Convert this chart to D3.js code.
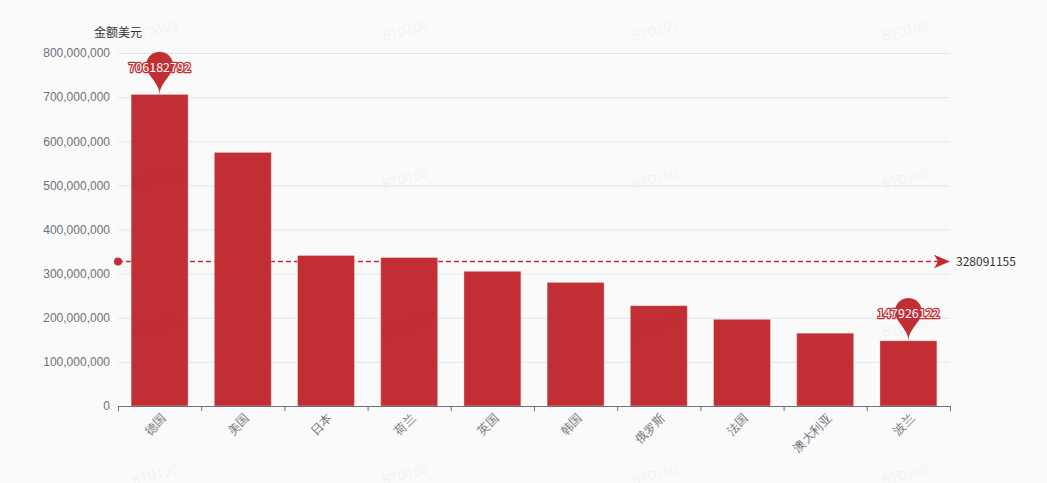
<!DOCTYPE html>
<html>
<head>
<meta charset="utf-8">
<script src="https://cdn.jsdelivr.net/npm/d3@7/dist/d3.min.js"></script>
<style>
  html, body { margin: 0; padding: 0; background: #fafafa; }
  svg { display: block; font-family: "Microsoft YaHei", "Noto Sans CJK SC", sans-serif; }
</style>
</head>
<body>
<svg id="chart" width="1047" height="483"></svg>
<script>
// chart data
const countries = ['德国', '美国', '日本', '荷兰', '英国', '韩国', '俄罗斯', '法国', '澳大利亚', '波兰'];
const amounts = [706182792, 574800000, 341200000, 336500000, 305300000, 280100000, 227400000, 196500000, 165002636, 147926122];
const yTicks = [0, 100000000, 200000000, 300000000, 400000000, 500000000, 600000000, 700000000, 800000000];
const yName = '金额美元';
const watermark = 'BTD100';

const barColor = '#c12e34';
const axisColor = '#6e7079';

const svg = d3.select('#chart'),
  margin = {top: 53, right: 97, bottom: 77, left: 118},
  width = +svg.attr('width') - margin.left - margin.right,
  height = +svg.attr('height') - margin.top - margin.bottom;

svg.append('rect').attr('width', 1047).attr('height', 483).attr('fill', '#fafafa');

const g = svg.append('g').attr('transform', 'translate(' + margin.left + ',' + margin.top + ')');

let x = d3.scaleBand()
  .domain(countries)
  .range([0, width]);

let xBar = d3.scaleBand()
  .domain(countries)
  .range([0, width])
  .paddingInner(0.315)
  .paddingOuter(0.1575);

let y = d3.scaleLinear()
  .domain([0, d3.max(yTicks)])
  .range([height, 0]);

// grid lines
g.append('g')
  .selectAll('line')
  .data(yTicks.slice(1))
  .join('line')
  .attr('x1', 0)
  .attr('x2', width)
  .attr('y1', d => y(d) + 0.5)
  .attr('y2', d => y(d) + 0.5)
  .attr('stroke', '#e0e6f1');

// y axis labels
g.append('g')
  .call(d3.axisLeft(y).tickValues(yTicks).tickSize(0).tickPadding(8).tickFormat(d3.format(',')))
  .call(a => a.select('.domain').remove())
  .call(a => a.selectAll('text').attr('fill', axisColor).style('font-size', '12px').style('font-family', null));

g.append('text')
  .attr('x', 0)
  .attr('y', -16)
  .attr('text-anchor', 'middle')
  .attr('fill', '#333')
  .style('font-size', '12px')
  .text(yName);

// average mark line (under the bars)
const avg = d3.mean(amounts);
const ay = Math.round(y(avg)) + 0.5;
g.append('line')
  .attr('x1', 0)
  .attr('x2', width - 12)
  .attr('y1', ay)
  .attr('y2', ay)
  .attr('stroke', barColor)
  .attr('stroke-width', 1.3)
  .attr('stroke-dasharray', '5,3');

// bars
g.append('g')
  .selectAll('rect')
  .data(countries)
  .join('rect')
  .attr('x', d => xBar(d))
  .attr('width', xBar.bandwidth())
  .attr('y', (d, i) => y(amounts[i]))
  .attr('height', (d, i) => height - y(amounts[i]))
  .attr('fill', barColor)
  .attr('stroke', 'rgba(255,255,255,0.35)')
  .attr('stroke-width', 1);

g.append('circle')
  .attr('cx', 0)
  .attr('cy', ay)
  .attr('r', 4)
  .attr('fill', barColor);
g.append('path')
  .attr('d', 'M0,0L-16,-6.7L-12,0L-16,6.7Z')
  .attr('transform', 'translate(' + width + ',' + ay + ')')
  .attr('fill', barColor);
g.append('text')
  .attr('x', width + 6)
  .attr('y', ay)
  .attr('dy', '0.35em')
  .attr('fill', '#333')
  .style('font-size', '12px')
  .text(d3.format('d')(Math.round(avg)));

// x axis
const xAxis = g.append('g')
  .attr('transform', 'translate(0,' + height + ')')
  .call(d3.axisBottom(x).tickSize(0).tickPadding(0));
xAxis.select('.domain').attr('stroke', axisColor).attr('d', 'M0.5,0.5H' + (width + 0.5));
xAxis.selectAll('.tick line').remove();
xAxis.selectAll('.tick text')
  .attr('fill', axisColor)
  .style('font-size', '12px')
  .style('font-family', null)
  .attr('text-anchor', 'end')
  .attr('dy', '0.35em')
  .attr('transform', 'translate(4,10) rotate(-45)');
// ticks on band boundaries
xAxis.append('g')
  .selectAll('line')
  .data(d3.range(countries.length + 1))
  .join('line')
  .attr('x1', i => i * x.step() + 0.5)
  .attr('x2', i => i * x.step() + 0.5)
  .attr('y1', 0)
  .attr('y2', 5)
  .attr('stroke', axisColor);

// max / min pins
let pinPath = function(w, h) {
  const r = w / 2;
  const dy = r * r / (h - r);
  const cy = -h + r + dy;
  const angle = Math.asin(dy / r);
  const dx = Math.cos(angle) * r;
  const tanX = Math.sin(angle), tanY = Math.cos(angle);
  const cp = r * 0.6, cp2 = r * 0.7;
  const p = d3.path();
  p.moveTo(-dx, cy + dy);
  p.arc(0, cy, r, Math.PI - angle, Math.PI * 2 + angle);
  p.bezierCurveTo(dx - tanX * cp, cy + dy + tanY * cp, 0, -cp2, 0, 0);
  p.bezierCurveTo(0, -cp2, -dx + tanX * cp, cy + dy + tanY * cp, -dx, cy + dy);
  p.closePath();
  return {d: p.toString(), cy: cy};
};

const maxI = d3.maxIndex(amounts), minI = d3.minIndex(amounts);
const pin = pinPath(27, 48);
[maxI, minI].forEach(function(i) {
  const pg = g.append('g')
    .attr('transform', 'translate(' + (x(countries[i]) + x.bandwidth() / 2) + ',' + y(amounts[i]) + ')');
  pg.append('path').attr('d', pin.d).attr('fill', barColor);
  pg.append('text')
    .attr('y', pin.cy + 2)
    .attr('dy', '0.35em')
    .attr('text-anchor', 'middle')
    .attr('fill', '#fff')
    .attr('stroke', barColor)
    .attr('stroke-width', 2.5)
    .attr('paint-order', 'stroke')
    .attr('stroke-linejoin', 'round')
    .style('font-size', '12.5px')
    .text(amounts[i]);
});

// watermark (bottom row is clipped by the canvas edge, as in the original)
const wm = svg.append('g').attr('pointer-events', 'none');
d3.range(4).forEach(function(r) {
  d3.range(4).forEach(function(c) {
    wm.append('text')
      .attr('transform', 'translate(' + (156 + c * 250) + ',' + (35 + r * 148) + ') rotate(-15)')
      .attr('text-anchor', 'middle')
      .attr('fill', 'rgba(0,0,0,0.06)')
      .style('font-size', '13px')
      .text(watermark);
  });
});
</script>
</body>
</html>
